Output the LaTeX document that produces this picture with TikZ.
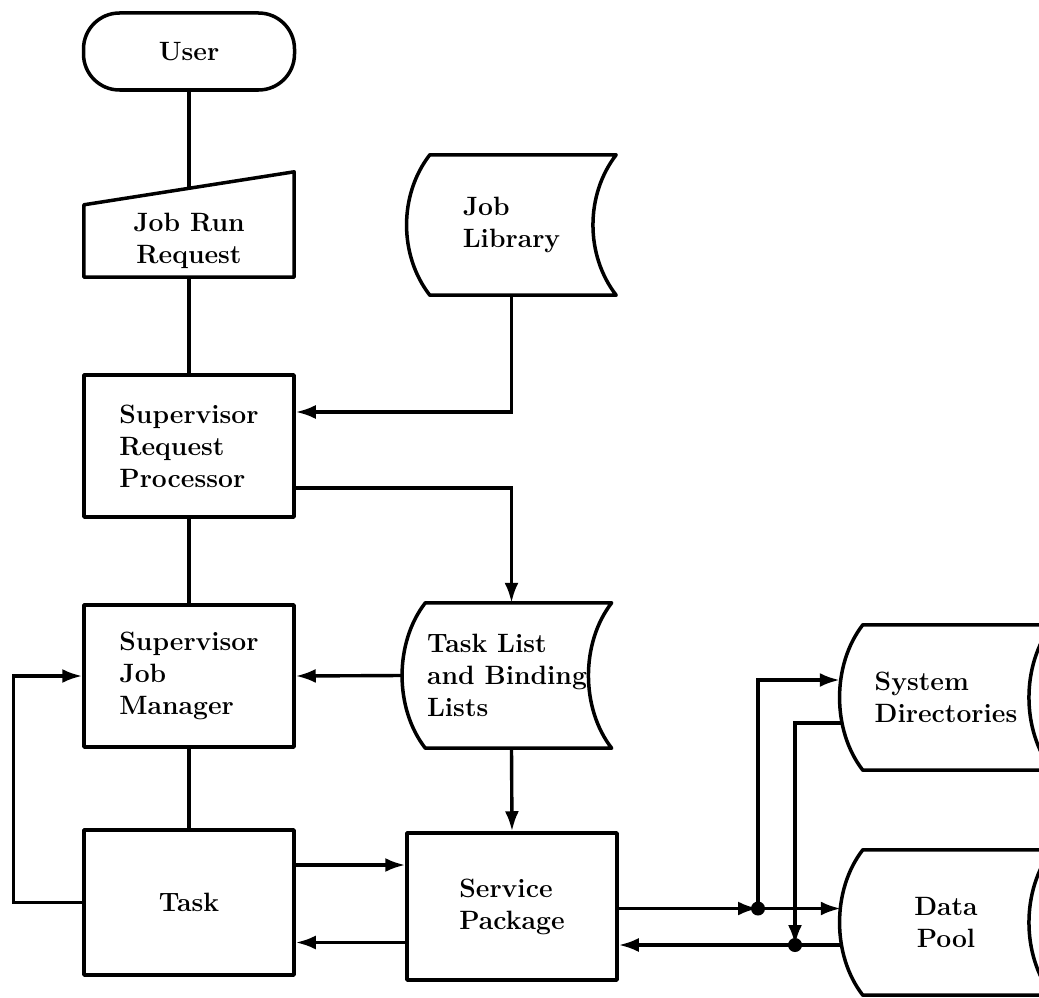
\documentclass[tikz,border=0pt]{standalone}
\usetikzlibrary{calc,arrows.meta}

% outline of a stored-data symbol drawn round a named node:
% convex left side, concave right side
\newcommand{\storeoutline}[1]{%
  \draw[shape line] ($(#1.north west)+(23,0)$) -- (#1.north east)
    .. controls ($(#1.north east)+(-31,40)$) and ($(#1.south east)+(-31,-40)$) .. (#1.south east)
    -- ($(#1.south west)+(23,0)$)
    .. controls ($(#1.south west)+(-8,-40)$) and ($(#1.north west)+(-8,40)$) .. ($(#1.north west)+(23,0)$) -- cycle;}

\begin{document}
\begin{tikzpicture}[x=1pt,y=-1pt,
  shape line/.style={line width=3.5pt, line join=round},
  conn/.style={line width=3.4pt},
  arr/.style={conn, -{Latex[length=20pt,width=14pt]}},
  lbl/.style={font=\fontsize{26.5}{32}\selectfont\bfseries, align=left, inner sep=0pt},
  box/.style={draw, shape line, rectangle, minimum width=210pt, minimum height=142pt, lbl},
  store/.style={lbl, minimum width=209pt, minimum height=145pt},
  dot/.style={circle, fill, inner sep=0pt, minimum size=14pt}]

\clip (0,0) rectangle (1039,998);

% left column
\node[box, minimum width=211pt, minimum height=77pt, rounded corners=36pt, align=center] (user) at (189,51.5) {User};
\node[lbl, minimum width=210pt, minimum height=72pt, align=center] (jrr) at (189,241) {Job Run\\Request};
\draw[shape line] (jrr.south west) -- (jrr.north west) -- ($(jrr.north east)+(0,-33)$) -- (jrr.south east) -- cycle;
\node[box] (srp) at (189,446) {Supervisor\\Request\\Processor};
\node[box] (sjm) at (189,676) {Supervisor\\Job\\Manager};
\node[box, minimum height=145pt] (task) at (189,902.5) {Task};

% middle column
\node[store, minimum height=140pt] (jl) at (511.5,225) {Job\\Library};
\storeoutline{jl}
\node[store] (tl) at (507,675.5) {Task List\\and Binding\\Lists};
\storeoutline{tl}
\node[box, minimum height=147pt] (sp) at (512,906.5) {Service\\Package};

% right column
\node[store, minimum width=212pt] (sd) at (946,697.5) {System\\Directories};
\storeoutline{sd}
\node[store, minimum width=212pt, align=center] (dp) at (946,922.5) {Data\\Pool};
\storeoutline{dp}

% connectors
\draw[conn] (user.south) -- ($(jrr.north)+(0,-16.3)$);
\draw[conn] (jrr.south) -- (srp.north);
\draw[arr] (jl.south) |- ($(srp.east)+(0,-34)$);
\draw[arr] ($(srp.east)+(0,42)$) -| (jl.south |- tl.north);
\draw[conn] (srp.south) -- (sjm.north);
\draw[arr] (tl.west) -- (sjm.east);
\draw[arr] (jl.south |- tl.south) -- (sp.north);
\draw[conn] (sjm.south) -- (task.north);
\draw[arr] (task.west) -- ++(-69,0) |- (sjm.west);
\draw[arr] ($(task.east)+(0,-37.5)$) coordinate (tsp) -- (tsp -| sp.west);
\draw[arr] ($(sp.west)+(0,36)$) coordinate (spt) -- (spt -| task.east);

\coordinate (j1) at (758,908.5);
\coordinate (j2) at (795,945);
\draw[arr] (sp.east |- j1) -- (j1);
\draw[arr] (j1) -- ($(j1 -| dp.west)+(1,0)$);
\draw[arr] (j1) |- ($(sd.west)+(0,-17.5)$);
\draw[arr] ($(sd.west)+(2,25.5)$) -| (j2);
\draw[arr] ($(j2 -| dp.west)+(1,0)$) -- (j2 -| sp.east);
\node[dot] (d1) at (j1) {};
\node[dot] (d2) at (j2) {};
\end{tikzpicture}
\end{document}
